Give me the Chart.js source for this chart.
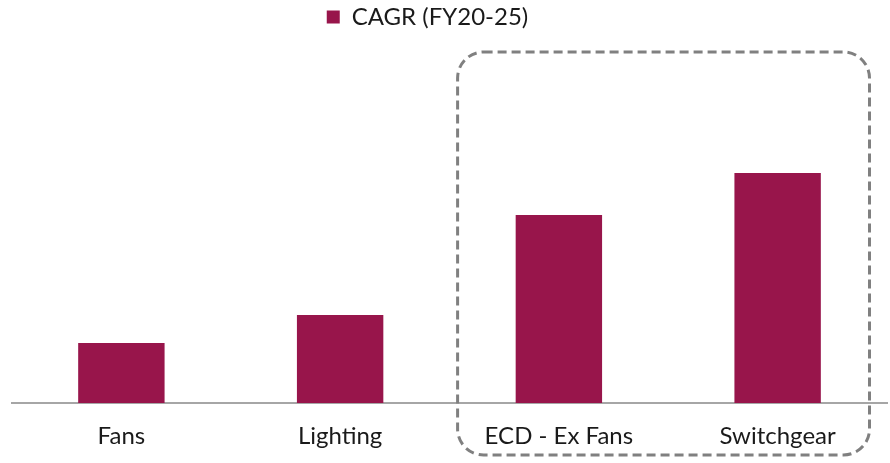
<!DOCTYPE html>
<html>
<head>
<meta charset="utf-8">
<script src="https://cdn.jsdelivr.net/npm/chart.js@4/dist/chart.umd.min.js"></script>
<style>
  html, body { margin: 0; padding: 0; background: #ffffff; }
  #wrap { width: 890px; height: 463px; position: relative; }
</style>
</head>
<body>
<div id="wrap"><canvas id="chart"></canvas></div>
<script>
// Segments and their growth rates (%)
const categories = ['Fans', 'Lighting', 'ECD - Ex Fans', 'Switchgear'];
const cagrValues = [3.0, 4.4, 9.4, 11.5];
const seriesLabel = 'CAGR (FY20-25)';
// Segments grouped inside the dashed highlight box
const highlighted = ['ECD - Ex Fans', 'Switchgear'];

const barColor = '#98154B';

// Extra room under the legend, and a small leftward nudge of the legend row
const legendSpacing = {
  id: 'legendSpacing',
  beforeInit(chart) {
    const legend = chart.legend;
    const fit = legend.fit;
    legend.fit = function () {
      fit.call(this);
      this.height += 16;
    };
  },
  afterLayout(chart) {
    chart.legend.left -= 22;
    chart.legend.right -= 22;
  }
};

// Rounded dashed frame around the highlighted segments
const highlightBox = {
  id: 'highlightBox',
  afterDatasetsDraw(chart) {
    const x = chart.scales.x;
    const ctx = chart.ctx;
    const first = categories.indexOf(highlighted[0]);
    const last = categories.indexOf(highlighted[highlighted.length - 1]);
    const step = x.getPixelForValue(1) - x.getPixelForValue(0);
    const left = x.getPixelForValue(first) - step * 0.463;
    const right = x.getPixelForValue(last) + step * 0.42;
    const top = chart.chartArea.top - 3;
    const bottom = chart.height - 8;
    const r = 26;
    ctx.save();
    ctx.strokeStyle = '#808080';
    ctx.lineWidth = 3;
    ctx.setLineDash([9, 5]);
    ctx.beginPath();
    ctx.roundRect(left, top, right - left, bottom - top, r);
    ctx.stroke();
    ctx.restore();
  }
};

new Chart(document.getElementById('chart'), {
  type: 'bar',
  data: {
    labels: categories,
    datasets: [{
      label: seriesLabel,
      data: cagrValues,
      backgroundColor: barColor,
      borderWidth: 0,
      categoryPercentage: 1,
      barPercentage: 0.395
    }]
  },
  options: {
    responsive: true,
    maintainAspectRatio: false,
    animation: false,
    layout: { padding: { left: 12, right: 3, top: 0, bottom: 0 } },
    plugins: {
      legend: {
        display: true,
        position: 'top',
        labels: {
          boxWidth: 13,
          boxHeight: 13,
          color: '#1a1a1a',
          font: { family: 'Lato', size: 24 },
          padding: 5
        }
      },
      tooltip: { enabled: false }
    },
    scales: {
      x: {
        grid: { display: false, drawTicks: false },
        border: { display: true, color: '#a6a6a6', width: 2 },
        ticks: {
          color: '#1a1a1a',
          font: { family: 'Lato', size: 24 },
          padding: 19,
          maxRotation: 0
        },
        afterFit(scale) {
          scale.height = 60;
        }
      },
      y: {
        display: false,
        min: 0,
        max: 17.4
      }
    }
  },
  plugins: [legendSpacing, highlightBox]
});
</script>
</body>
</html>
